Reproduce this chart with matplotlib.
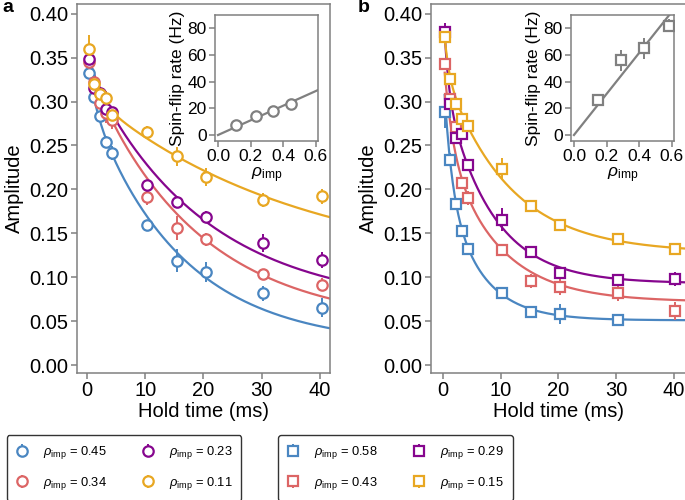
import numpy as np
import matplotlib
matplotlib.use("Agg")
import matplotlib.pyplot as plt

plt.rcParams['font.family'] = ['Liberation Sans', 'DejaVu Sans']
plt.rcParams['mathtext.fontset'] = 'custom'
plt.rcParams['mathtext.rm'] = 'Liberation Sans'
plt.rcParams['mathtext.it'] = 'Liberation Sans:italic'

colors = ['#4A86C1', '#DC6565', '#86068E', '#E8A722']
gray = '#808080'

# hold times (ms)
t_a = [0.3, 1.3, 2.3, 3.3, 4.3, 10.3, 15.4, 20.4, 30.3, 40.3]
t_b = [0.3, 1.2, 2.2, 3.3, 4.3, 10.3, 15.3, 20.3, 30.3, 40.3]

# panel a (circles)
labels_a = ['0.45', '0.34', '0.23', '0.11']
amp_a = [
    [0.332, 0.305, 0.283, 0.254, 0.241, 0.159, 0.119, 0.106, 0.0815, 0.0655],
    [0.345, 0.322, 0.298, 0.287, 0.279, 0.191, 0.156, 0.143, 0.1034, 0.0917],
    [0.348, 0.315, 0.310, 0.292, 0.288, 0.2045, 0.186, 0.169, 0.139, 0.120],
    [0.360, 0.320, 0.309, 0.304, 0.285, 0.265, 0.2375, 0.214, 0.188, 0.192],
]
err_a = [
    [0.006, 0.006, 0.006, 0.007, 0.008, 0.006, 0.013, 0.011, 0.008, 0.011],
    [0.006, 0.008, 0.007, 0.012, 0.010, 0.009, 0.014, 0.007, 0.006, 0.007],
    [0.006, 0.006, 0.006, 0.006, 0.006, 0.006, 0.006, 0.006, 0.010, 0.009],
    [0.016, 0.008, 0.008, 0.008, 0.008, 0.007, 0.011, 0.010, 0.008, 0.009],
]
# fit parameters  C + A1 exp(-t/tau1) + A2 exp(-t/tau2)
fit_a_C = [0.022, 0.045, 0.065, 0.104]
fit_a_A1 = [0.043, 0.025, 0.020, 0.050]
fit_a_tau1 = [1.5, 1.5, 1.5, 1.5]
fit_a_A2 = [0.284, 0.293, 0.273, 0.205]
fit_a_tau2 = [15.7, 18.5, 20.0, 36.0]

# panel b (squares)
labels_b = ['0.58', '0.43', '0.29', '0.15']
amp_b = [
    [0.288, 0.234, 0.183, 0.153, 0.1325, 0.082, 0.0606, 0.058, 0.051, np.nan],
    [0.343, 0.303, 0.271, 0.207, 0.190, 0.131, 0.0955, 0.089, 0.0815, 0.0614],
    [0.379, 0.297, 0.258, 0.263, 0.228, 0.1655, 0.129, 0.105, 0.097, 0.0985],
    [0.373, 0.326, 0.297, 0.280, 0.272, 0.2235, 0.181, 0.160, 0.143, 0.1325],
]
err_b = [
    [0.018, 0.007, 0.006, 0.006, 0.006, 0.007, 0.007, 0.011, 0.005, np.nan],
    [0.006, 0.006, 0.006, 0.006, 0.008, 0.006, 0.008, 0.009, 0.008, 0.010],
    [0.010, 0.006, 0.006, 0.006, 0.006, 0.013, 0.007, 0.006, 0.007, 0.008],
    [0.008, 0.006, 0.006, 0.006, 0.006, 0.012, 0.005, 0.006, 0.006, 0.005],
]
fit_b_C = [0.051, 0.072, 0.093, 0.128]
fit_b_A1 = [0.130, 0.100, 0.095, 0.059]
fit_b_tau1 = [1.3, 1.5, 0.75, 0.73]
fit_b_A2 = [0.161, 0.185, 0.229, 0.212]
fit_b_tau2 = [6.0, 9.0, 8.0, 11.0]

# insets: spin-flip rate vs rho_imp
rho_a = [0.11, 0.23, 0.34, 0.45]
rate_a = [7.5, 14.2, 17.9, 22.9]
rate_err_a = [1.5, 1.5, 1.5, 1.5]
slope_a = 55.0

rho_b = [0.15, 0.29, 0.43, 0.58]
rate_b = [26.0, 56.0, 65.0, 82.0]
rate_err_b = [3.0, 8.0, 8.0, 5.0]
slope_b = 154.0


def style_axes(ax, size):
    for s in ax.spines.values():
        s.set_color(gray)
        s.set_linewidth(1.1)
    ax.tick_params(direction='out', length=4, width=1.1, color=gray,
                   labelsize=size, pad=2)


def main_panel(ax, t, amps, errs, C, A1, tau1, A2, tau2, marker, labels):
    tt = np.linspace(0.3, 43, 400)
    handles = []
    for i in range(4):
        yfit = C[i] + A1[i] * np.exp(-tt / tau1[i]) + A2[i] * np.exp(-tt / tau2[i])
        ax.plot(tt, yfit, color=colors[i], lw=1.6, zorder=2)
    for i in range(4):
        h = ax.errorbar(t, amps[i], yerr=errs[i], fmt=marker, color=colors[i],
                        mfc='white', mec=colors[i], ms=7.5, mew=1.6,
                        elinewidth=1.4, capsize=0, zorder=3,
                        label=r'$\rho_{\mathrm{imp}}$ = ' + labels[i])
        handles.append(h)
    ax.set_ylim(-0.009, 0.411)
    ax.set_yticks(np.arange(0, 0.41, 0.05))
    ax.set_yticklabels(['%.2f' % v for v in np.arange(0, 0.41, 0.05)])
    ax.set_xticks([0, 10, 20, 30, 40])
    ax.set_xlabel('Hold time (ms)', fontsize=14.5, labelpad=1)
    ax.set_ylabel('Amplitude', fontsize=14.5, labelpad=4)
    style_axes(ax, 14.5)
    return handles


def inset_panel(ax, rho, rate, err, slope, marker):
    xx = np.linspace(0, 0.62, 50)
    ax.plot(xx, slope * xx, color=gray, lw=1.6, zorder=2)
    ax.errorbar(rho, rate, yerr=err, fmt=marker, color=gray, mfc='white',
                mec=gray, ms=7.5, mew=1.6, elinewidth=1.4, capsize=0, zorder=3)
    ax.set_xlim(-0.018, 0.612)
    ax.set_ylim(-4.5, 90)
    ax.set_xticks([0, 0.2, 0.4, 0.6])
    ax.set_xticklabels(['0.0', '0.2', '0.4', '0.6'])
    ax.set_yticks([0, 20, 40, 60, 80])
    ax.set_xlabel(r'$\rho_{\mathrm{imp}}$', fontsize=12.5, labelpad=1)
    ax.set_ylabel('Spin-flip rate (Hz)', fontsize=12.5, labelpad=2)
    style_axes(ax, 12.5)


fig = plt.figure(figsize=(6.85, 5.0), dpi=100)

ax_a = fig.add_axes([0.1124, 0.254, 0.369, 0.738])
h_a = main_panel(ax_a, t_a, amp_a, err_a, fit_a_C, fit_a_A1, fit_a_tau1,
                 fit_a_A2, fit_a_tau2, 'o', labels_a)
ax_a.set_xlim(-1.7, 41.7)

ax_b = fig.add_axes([0.629, 0.254, 0.373, 0.738])
h_b = main_panel(ax_b, t_b, amp_b, err_b, fit_b_C, fit_b_A1, fit_b_tau1,
                 fit_b_A2, fit_b_tau2, 's', labels_b)
ax_b.set_xlim(-2.1, 42.2)

in_a = fig.add_axes([0.314, 0.718, 0.150, 0.252])
inset_panel(in_a, rho_a, rate_a, rate_err_a, slope_a, 'o')
in_b = fig.add_axes([0.8336, 0.718, 0.150, 0.252])
inset_panel(in_b, rho_b, rate_b, rate_err_b, slope_b, 's')

fig.text(0.004, 0.985, 'a', fontsize=14, fontweight='bold', va='center')
fig.text(0.522, 0.985, 'b', fontsize=14, fontweight='bold', va='center')

for handles, xc in [(h_a, 0.181), (h_b, 0.577)]:
    leg = fig.legend(handles=handles, loc='center', bbox_to_anchor=(xc, 0.064),
                     ncol=2, fontsize=9.3, frameon=True, fancybox=True,
                     edgecolor='#333333', handlelength=1.0, handletextpad=1.1,
                     columnspacing=2.7, labelspacing=1.05, borderpad=0.7,
                     borderaxespad=0)
    leg.get_frame().set_linewidth(1.0)
    leg.get_frame().set_alpha(1)

fig.savefig('out.png', dpi=100)
